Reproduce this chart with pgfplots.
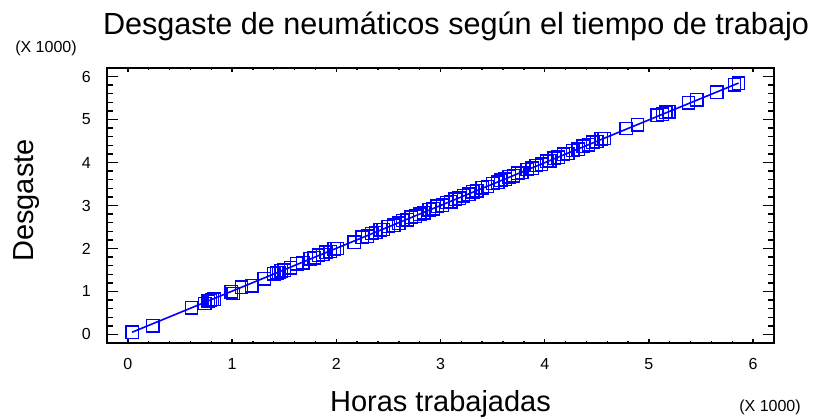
\documentclass[border=0pt]{standalone}
\usepackage{fontspec}
\setmainfont{Liberation Sans}
\usepackage{pgfplots}
\pgfplotsset{compat=1.18}
\usepackage{pgfplotstable}
\definecolor{sgblue}{RGB}{0,0,255}
\pgfplotstableread{
x y
40 50
240 200
610 620
740 720
770 770
790 790
810 810
830 820
990 990
1010 950
1090 1100
1190 1130
1310 1290
1400 1410
1430 1430
1450 1440
1470 1480
1500 1490
1560 1550
1620 1640
1680 1670
1750 1760
1790 1780
1830 1840
1870 1860
1900 1910
1940 1930
1980 1990
2010 2000
2170 2150
2250 2260
2300 2290
2340 2350
2380 2370
2420 2430
2450 2440
2500 2510
2550 2540
2600 2590
2640 2650
2680 2670
2720 2730
2760 2750
2800 2800
2840 2830
2890 2900
2930 2920
2970 2980
3020 3010
3060 3070
3100 3090
3140 3150
3180 3170
3220 3230
3270 3260
3310 3320
3350 3340
3400 3410
3450 3440
3500 3510
3550 3540
3580 3590
3620 3610
3660 3670
3700 3690
3740 3750
3780 3770
3830 3840
3880 3870
3920 3930
3970 3960
4020 4030
4050 4040
4090 4100
4130 4120
4180 4190
4220 4210
4270 4280
4320 4310
4370 4380
4420 4410
4460 4470
4500 4490
4540 4550
4570 4560
4780 4790
4890 4880
5080 5100
5130 5120
5160 5170
5190 5180
5380 5390
5460 5460
5650 5640
5820 5810
5860 5850
}\datatable
\pgfplotstableread{
x y
40 50
5860 5850
}\fitline
\begin{document}
\begin{tikzpicture}
\pgfplotsset{
  common/.style={
    width=667pt, height=275pt, scale only axis,
    xmin=-200, xmax=6200, ymin=-200, ymax=6200,
    axis line style={line width=1.8pt, black},
    tick align=inside,
    every tick/.style={black, line width=1.4pt},
    tick label style={font=\fontsize{16}{18}\selectfont, inner sep=0pt},
  }
}
\begin{axis}[common,
  xtick={0,1000,2000,3000,4000,5000,6000},
  xticklabels={0,1,2,3,4,5,6},
  minor x tick num=4,
  ytick=\empty,
  major tick length=4pt, minor tick length=2pt,
  xticklabel style={anchor=north, yshift=-15pt},
  clip=false,
]
\addplot[sgblue, line width=1.6pt] table[x=x,y=y]{\fitline};
\addplot[sgblue, only marks, mark=square, mark size=6.2pt,
  mark options={draw=sgblue, line width=1.4pt, fill=none, solid}] table[x=x,y=y]{\datatable};
\coordinate (sw) at (rel axis cs:0,0);
\coordinate (ne) at (rel axis cs:1,1);
\coordinate (tl) at (rel axis cs:0,1);
\coordinate (br) at (rel axis cs:1,0);
\coordinate (bm) at (rel axis cs:0.5,0);
\coordinate (lm) at (rel axis cs:0,0.5);
\end{axis}
\begin{axis}[common,
  ytick={0,1000,2000,3000,4000,5000,6000},
  yticklabels={0,1,2,3,4,5,6},
  minor y tick num=4,
  xtick=\empty,
  major tick length=11pt, minor tick length=6pt,
  yticklabel style={anchor=east, xshift=-16pt},
]
\end{axis}
\node[anchor=base, font=\fontsize{30.6}{33}\selectfont] at ([xshift=349pt, yshift=33pt]tl) {Desgaste de neumáticos según el tiempo de trabajo};
\node[anchor=center, font=\fontsize{16}{18}\selectfont] at ([xshift=-61pt, yshift=20pt]tl) {(X 1000)};
\node[anchor=center, font=\fontsize{16}{18}\selectfont] at ([xshift=-4pt, yshift=-64pt]br) {(X 1000)};
\node[anchor=base, font=\fontsize{29}{31}\selectfont] at ([yshift=-68pt]bm) {Horas trabajadas};
\node[anchor=center, rotate=90, font=\fontsize{29}{31}\selectfont] at ([xshift=-80pt, yshift=5pt]lm) {Desgaste};
\pgfresetboundingbox
\path ([xshift=-107pt, yshift=-76pt]sw) rectangle ([xshift=43pt, yshift=68pt]ne);
\end{tikzpicture}
\end{document}
